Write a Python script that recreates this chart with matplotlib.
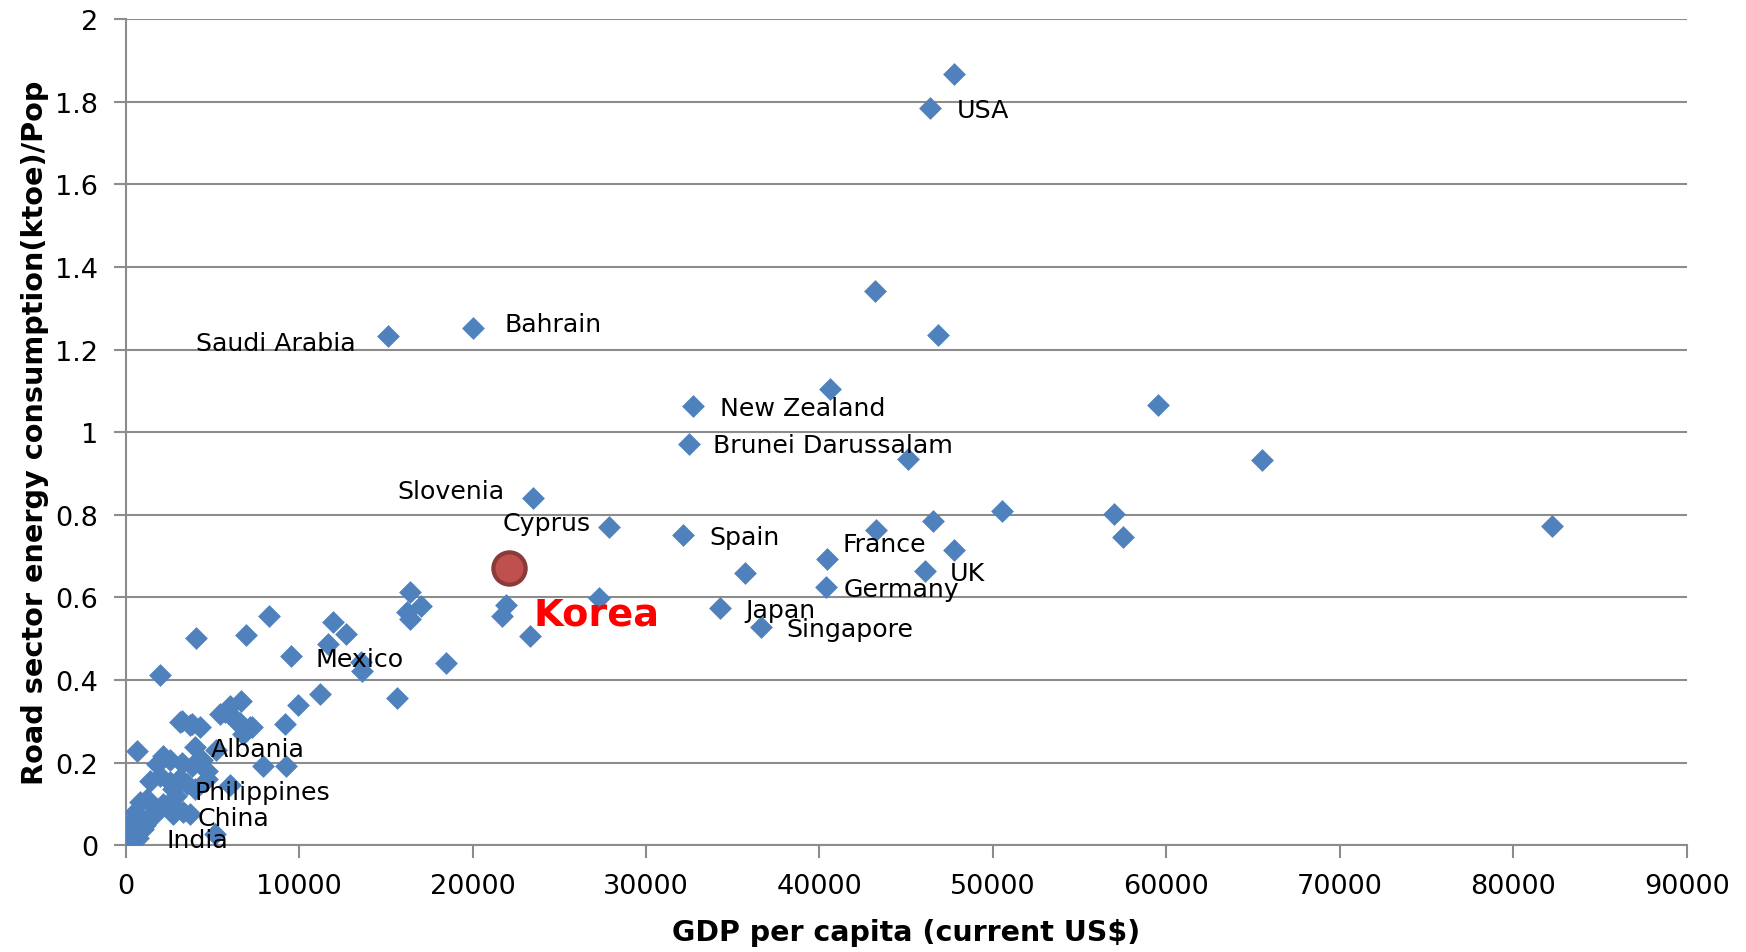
import numpy as np
import matplotlib
matplotlib.use("Agg")
import matplotlib.pyplot as plt

# GDP per capita (current US$) vs road energy use per person
gdp = [47750, 46400, 43200, 46850, 59500, 65530, 40630, 32700, 32480, 45120,
       15150, 20030, 23470, 27880, 32150, 50510, 57000, 57510, 82220, 43260,
       46530, 47750, 40440, 46080, 40370, 35690, 34270, 36650, 27280, 21900,
       21670, 23300, 16380, 17000, 16190, 16420, 8270, 11960, 12690, 11640,
       6930, 4050, 9520, 13560, 13630, 18450, 1970, 11190, 9910, 9170,
       15620, 6640, 6000, 5720, 6200, 6580, 7260, 3220, 3800, 4280,
       640, 3120, 3700, 5430, 6290, 7160, 6770, 7930, 9270, 3990,
       2160, 1780, 2550, 3220, 3800, 4380, 4660, 1390, 1970, 2550,
       3120, 3510, 3990, 2740, 6000, 820, 1200, 1590, 2160, 2740,
       3310, 3700, 2740, 530, 430, 820, 1200, 1590, 240, 630,
       1010, 50, 340, 720, 5130, 150, 4700, 5200, 2900, 1100]
road = [1.868, 1.784, 1.342, 1.235, 1.065, 0.933, 1.105, 1.063, 0.972, 0.935,
        1.232, 1.253, 0.840, 0.771, 0.752, 0.809, 0.801, 0.747, 0.774, 0.763,
        0.784, 0.714, 0.693, 0.663, 0.625, 0.660, 0.574, 0.528, 0.598, 0.582,
        0.556, 0.507, 0.613, 0.578, 0.564, 0.548, 0.556, 0.540, 0.512, 0.488,
        0.508, 0.502, 0.458, 0.443, 0.423, 0.440, 0.411, 0.366, 0.340, 0.294,
        0.356, 0.350, 0.337, 0.322, 0.310, 0.296, 0.286, 0.302, 0.294, 0.286,
        0.229, 0.298, 0.290, 0.318, 0.303, 0.286, 0.270, 0.193, 0.193, 0.237,
        0.217, 0.197, 0.206, 0.200, 0.192, 0.206, 0.180, 0.156, 0.168, 0.152,
        0.164, 0.148, 0.136, 0.136, 0.145, 0.104, 0.111, 0.096, 0.100, 0.096,
        0.080, 0.076, 0.076, 0.080, 0.060, 0.056, 0.064, 0.071, 0.039, 0.031,
        0.039, 0.024, 0.005, 0.017, 0.027, 0.012, 0.160, 0.230, 0.120, 0.050]

korea_gdp = 22120
korea_road = 0.671

# country labels: (text, x, y)
labels = [("USA", 47940, 1.779), ("Saudi Arabia", 4040, 1.216),
          ("Bahrain", 21820, 1.261), ("New Zealand", 34270, 1.059),
          ("Brunei Darussalam", 33890, 0.968), ("Slovenia", 15660, 0.857),
          ("Cyprus", 21760, 0.779), ("Spain", 33630, 0.747),
          ("France", 41330, 0.730), ("UK", 47490, 0.660),
          ("Germany", 41400, 0.620), ("Japan", 35750, 0.569),
          ("Singapore", 38120, 0.523), ("Mexico", 10970, 0.450),
          ("Albania", 4880, 0.234), ("Philippines", 3980, 0.129),
          ("China", 4170, 0.067), ("India", 2370, 0.013)]

fig = plt.figure(figsize=(17.46, 9.53), dpi=100)
ax = fig.add_axes([0.072, 0.112, 0.894, 0.867])

grid_col = "#8c8c8c"
ax.scatter(gdp, road, marker="D", s=135, color="#4F81BD", linewidths=0, zorder=3)
ax.scatter([korea_gdp], [korea_road], marker="o", s=540, color="#C0504D",
           edgecolors="#8B3A3A", linewidths=3, zorder=4)

for txt, x, y in labels:
    ax.text(x, y, txt, fontsize=18.2, va="center", ha="left", zorder=5)
ax.text(23490, 0.558, "Korea", fontsize=27.5, fontweight="bold", color="red",
        va="center", ha="left", zorder=5)

ax.set_xlim(0, 90000)
ax.set_ylim(0, 2)
ax.set_xticks(np.arange(0, 90001, 10000))
ax.set_yticks(np.arange(0, 2.01, 0.2))
ax.set_yticklabels(["0", "0.2", "0.4", "0.6", "0.8", "1", "1.2", "1.4", "1.6", "1.8", "2"])
ax.tick_params(axis="both", labelsize=19.5, color=grid_col, width=1.5, length=9, pad=11)
ax.grid(axis="y", color=grid_col, linewidth=1.5, zorder=0)
for s in ["top", "right"]:
    ax.spines[s].set_visible(False)
for s in ["left", "bottom"]:
    ax.spines[s].set_color(grid_col)
    ax.spines[s].set_linewidth(1.5)

ax.set_xlabel("GDP per capita (current US$)", fontsize=20.5, fontweight="bold", labelpad=14)
ax.set_ylabel("Road sector energy consumption(ktoe)/Pop", fontsize=20.7, fontweight="bold", labelpad=4)

fig.savefig("out.png", dpi=100)
